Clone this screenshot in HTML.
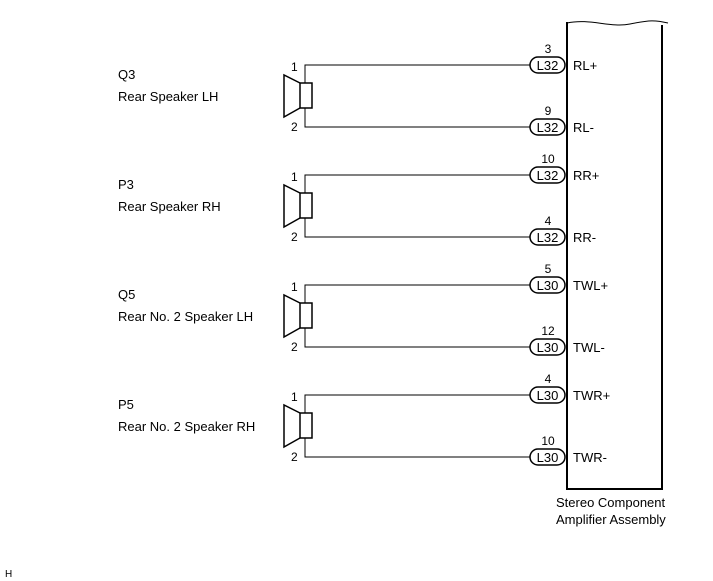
<!DOCTYPE html>
<html><head><meta charset="utf-8"><style>
html,body{margin:0;padding:0;background:#fff;}
svg{display:block;font-family:"Liberation Sans",Arial,sans-serif;}
.w{fill:none;stroke:#000;stroke-width:1}
.s{fill:none;stroke:#000;stroke-width:1.5}
.p{fill:#fff;stroke:#000;stroke-width:1.5}
</style></head><body>
<svg width="713" height="581" viewBox="0 0 713 581" xmlns="http://www.w3.org/2000/svg">
<g fill="none" stroke="#000">
<path d="M567 23 C590 18 610 28 630 24 S655 20 668 23" stroke-width="1"/>
<line x1="567" y1="22" x2="567" y2="489" stroke-width="2"/>
<line x1="662" y1="25" x2="662" y2="489" stroke-width="2"/>
<line x1="566" y1="489" x2="663" y2="489" stroke-width="2"/>
</g>

<g font-size="13">
<!-- group 1 -->
<g>
<text x="118" y="79">Q3</text><text x="118" y="101">Rear Speaker LH</text>
<text x="291" y="71" font-size="12">1</text><text x="291" y="131" font-size="12">2</text>
<rect x="300" y="83" width="12" height="25" class="s"/>
<polyline points="300,83 284,75 284,117 300,108" class="s"/>
<polyline points="530,65 305,65 305,83" class="w"/>
<polyline points="530,127 305,127 305,108" class="w"/>
<rect x="530" y="57" width="35" height="16" rx="8" class="p"/>
<text x="547.5" y="70" text-anchor="middle">L32</text>
<text x="548" y="53" font-size="12" text-anchor="middle">3</text>
<text x="573" y="70">RL+</text>
<rect x="530" y="119" width="35" height="16" rx="8" class="p"/>
<text x="547.5" y="132" text-anchor="middle">L32</text>
<text x="548" y="115" font-size="12" text-anchor="middle">9</text>
<text x="573" y="132">RL-</text>
</g>
<!-- group 2 -->
<g transform="translate(0,110)">
<text x="118" y="79">P3</text><text x="118" y="101">Rear Speaker RH</text>
<text x="291" y="71" font-size="12">1</text><text x="291" y="131" font-size="12">2</text>
<rect x="300" y="83" width="12" height="25" class="s"/>
<polyline points="300,83 284,75 284,117 300,108" class="s"/>
<polyline points="530,65 305,65 305,83" class="w"/>
<polyline points="530,127 305,127 305,108" class="w"/>
<rect x="530" y="57" width="35" height="16" rx="8" class="p"/>
<text x="547.5" y="70" text-anchor="middle">L32</text>
<text x="548" y="53" font-size="12" text-anchor="middle">10</text>
<text x="573" y="70">RR+</text>
<rect x="530" y="119" width="35" height="16" rx="8" class="p"/>
<text x="547.5" y="132" text-anchor="middle">L32</text>
<text x="548" y="115" font-size="12" text-anchor="middle">4</text>
<text x="573" y="132">RR-</text>
</g>
<!-- group 3 -->
<g transform="translate(0,220)">
<text x="118" y="79">Q5</text><text x="118" y="101">Rear No. 2 Speaker LH</text>
<text x="291" y="71" font-size="12">1</text><text x="291" y="131" font-size="12">2</text>
<rect x="300" y="83" width="12" height="25" class="s"/>
<polyline points="300,83 284,75 284,117 300,108" class="s"/>
<polyline points="530,65 305,65 305,83" class="w"/>
<polyline points="530,127 305,127 305,108" class="w"/>
<rect x="530" y="57" width="35" height="16" rx="8" class="p"/>
<text x="547.5" y="70" text-anchor="middle">L30</text>
<text x="548" y="53" font-size="12" text-anchor="middle">5</text>
<text x="573" y="70">TWL+</text>
<rect x="530" y="119" width="35" height="16" rx="8" class="p"/>
<text x="547.5" y="132" text-anchor="middle">L30</text>
<text x="548" y="115" font-size="12" text-anchor="middle">12</text>
<text x="573" y="132">TWL-</text>
</g>
<!-- group 4 -->
<g transform="translate(0,330)">
<text x="118" y="79">P5</text><text x="118" y="101">Rear No. 2 Speaker RH</text>
<text x="291" y="71" font-size="12">1</text><text x="291" y="131" font-size="12">2</text>
<rect x="300" y="83" width="12" height="25" class="s"/>
<polyline points="300,83 284,75 284,117 300,108" class="s"/>
<polyline points="530,65 305,65 305,83" class="w"/>
<polyline points="530,127 305,127 305,108" class="w"/>
<rect x="530" y="57" width="35" height="16" rx="8" class="p"/>
<text x="547.5" y="70" text-anchor="middle">L30</text>
<text x="548" y="53" font-size="12" text-anchor="middle">4</text>
<text x="573" y="70">TWR+</text>
<rect x="530" y="119" width="35" height="16" rx="8" class="p"/>
<text x="547.5" y="132" text-anchor="middle">L30</text>
<text x="548" y="115" font-size="12" text-anchor="middle">10</text>
<text x="573" y="132">TWR-</text>
</g>
</g>

<text x="556" y="507" font-size="13">Stereo Component</text>
<text x="556" y="524" font-size="13">Amplifier Assembly</text>
<text x="5" y="577" font-size="10">H</text>
</svg>
</body></html>
